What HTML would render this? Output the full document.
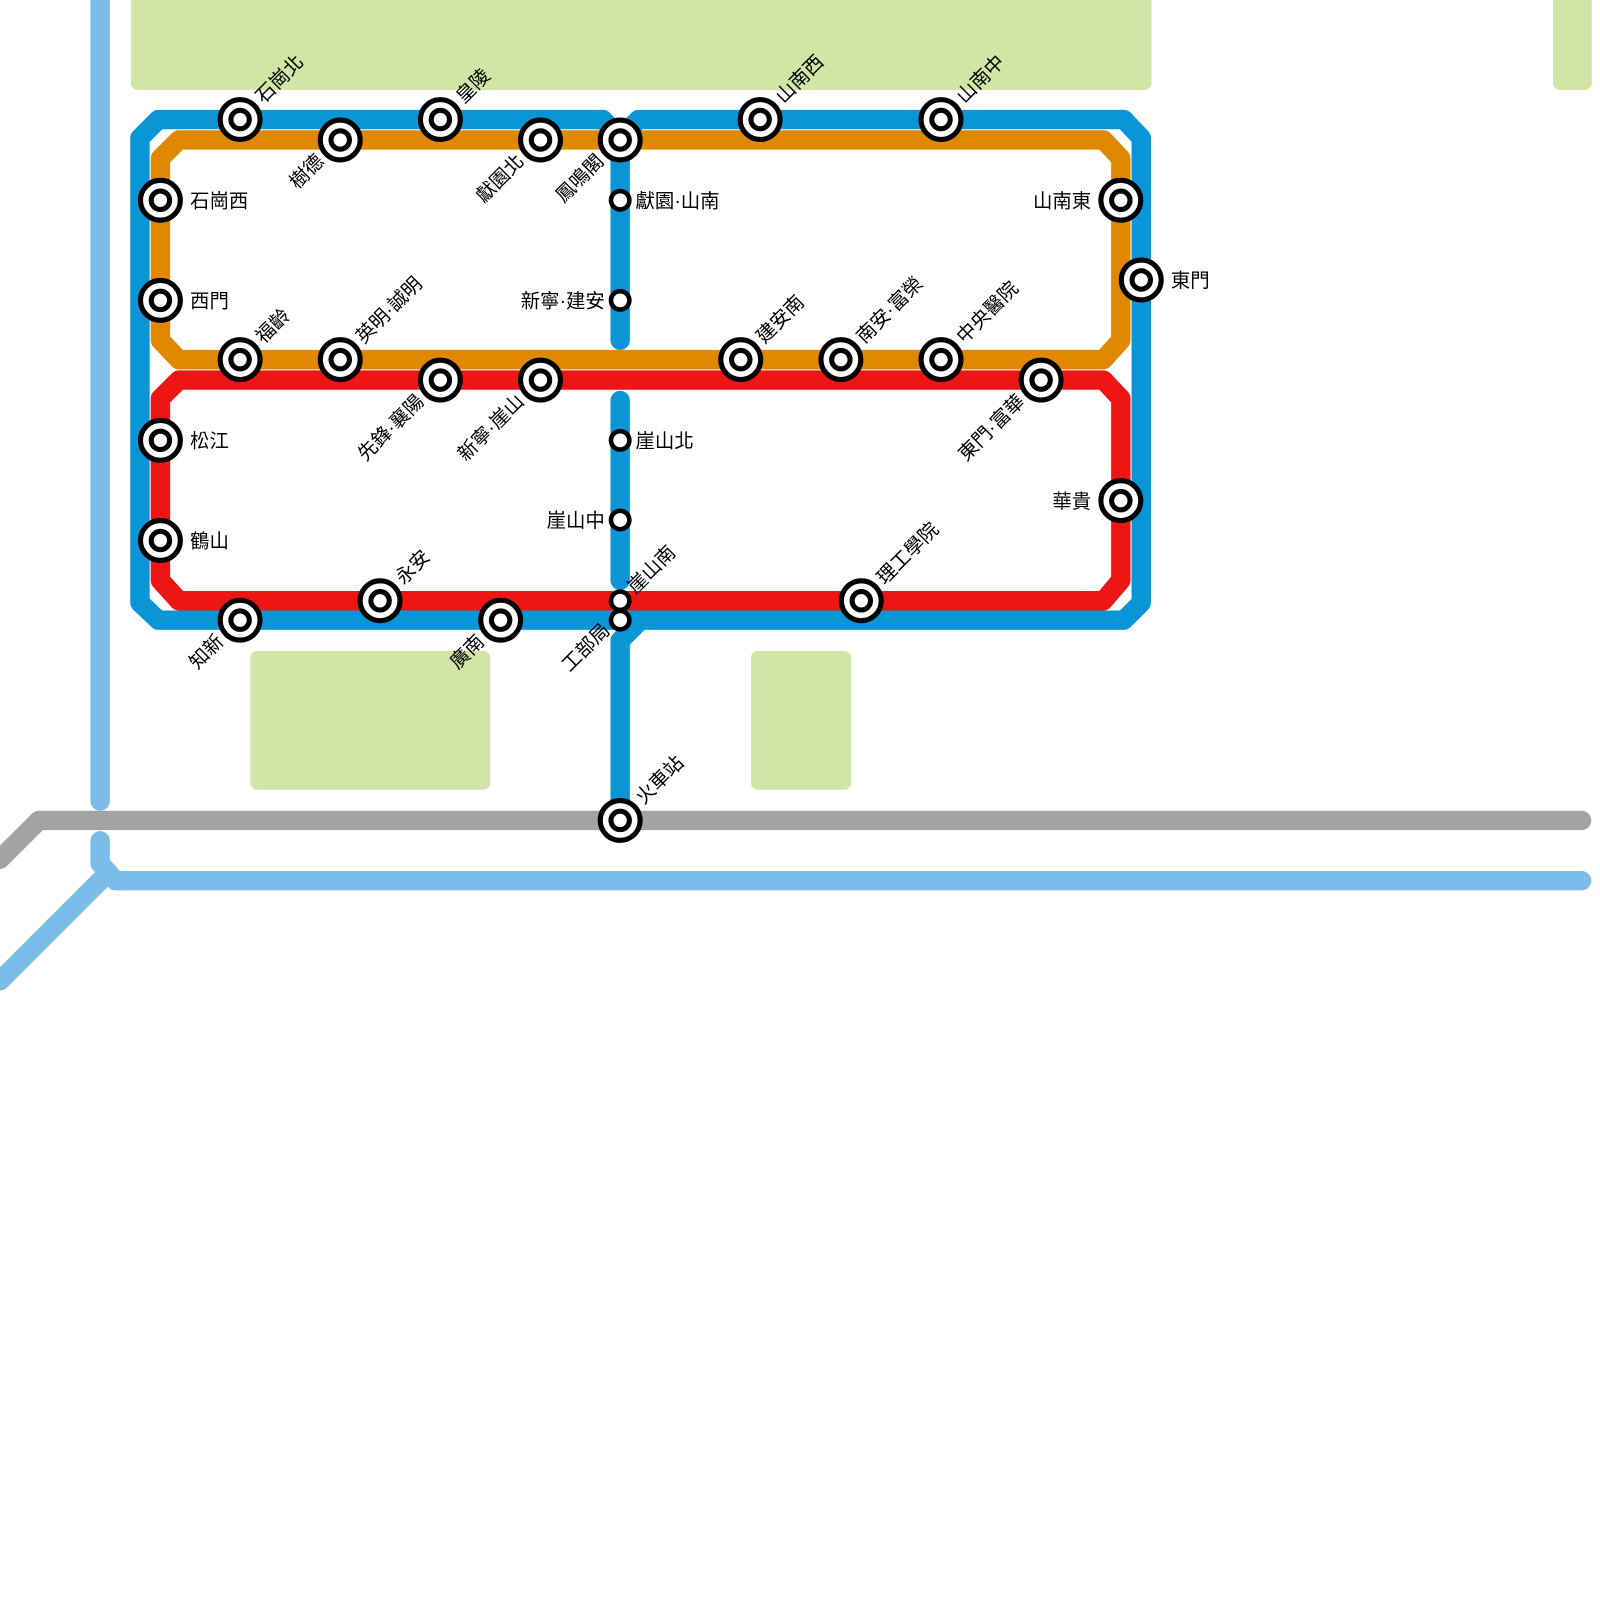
<!DOCTYPE html>
<html><head><meta charset="utf-8"><style>html,body{margin:0;padding:0;background:#fff}svg{display:block}</style></head>
<body>
<svg width="1600" height="1600" viewBox="0 0 1566 1566" xmlns="http://www.w3.org/2000/svg" font-family="Liberation Sans, Noto Sans CJK TC, sans-serif" font-size="19">
<g fill="#d1e5a7">
<rect x="128" y="-10" width="999" height="98" rx="7"/>
<rect x="1520" y="-10" width="38" height="98" rx="7"/>
<rect x="245" y="637" width="235" height="136" rx="7"/>
<rect x="735" y="637" width="98" height="136" rx="7"/>
</g>
<g fill="none" stroke-linecap="round" stroke-linejoin="round" stroke-width="19">
<g stroke="#7bbde8">
<path d="M98 0 V784"/>
<path d="M98 823 V845 L113 862 H1548"/>
<path d="M98 862 L0 960"/>
</g>
<path stroke="#a3a3a3" d="M0 841 L38 803 H1548"/>
<g stroke="#0a96d6">
<path d="M590 117 H155 L137 135 V590 L155 607 H1100 L1117 590 V135 L1100 117 H625 L607 135"/>
<path d="M590 117 L607 135 V333"/>
<path d="M607 392 V568"/>
<path d="M627 607 L607 627 V784"/>
</g>
<path stroke="#e08800" d="M175 137 H1080 L1097 155 V333 L1080 352 H175 L157 333 V155 Z"/>
<path stroke="#ee1515" d="M175 372 H1080 L1097 390 V568 L1080 588 H175 L157 568 V390 Z"/>
</g>
<defs>
<g id="b"><circle r="19.5" fill="#fff" stroke="#000" stroke-width="5"/><circle r="9" fill="#fff" stroke="#000" stroke-width="5"/></g>
<g id="s"><circle r="9" fill="#fff" stroke="#000" stroke-width="4.5"/></g>
</defs>
<g>
<use href="#b" x="235" y="117"/><use href="#b" x="431" y="117"/><use href="#b" x="744" y="117"/><use href="#b" x="921" y="117"/>
<use href="#b" x="333" y="137"/><use href="#b" x="529" y="137"/><use href="#b" x="607" y="137"/>
<use href="#b" x="157" y="196"/><use href="#b" x="157" y="294"/><use href="#b" x="157" y="431"/><use href="#b" x="157" y="529"/>
<use href="#b" x="235" y="352"/><use href="#b" x="333" y="352"/><use href="#b" x="725" y="352"/><use href="#b" x="823" y="352"/><use href="#b" x="921" y="352"/>
<use href="#b" x="431" y="372"/><use href="#b" x="529" y="372"/><use href="#b" x="1019" y="372"/>
<use href="#b" x="1097" y="196"/><use href="#b" x="1097" y="490"/><use href="#b" x="1117" y="274"/>
<use href="#b" x="372" y="588"/><use href="#b" x="843" y="588"/>
<use href="#b" x="235" y="607"/><use href="#b" x="490" y="607"/>
<use href="#b" x="607" y="803"/>
<use href="#s" x="607" y="196"/><use href="#s" x="607" y="294"/><use href="#s" x="607" y="431"/><use href="#s" x="607" y="509"/><use href="#s" x="607" y="588"/><use href="#s" x="607" y="607"/>
</g>
<g fill="#000">
<text x="186" y="203">石崗西</text>
<text x="186" y="301">西門</text>
<text x="186" y="438">松江</text>
<text x="186" y="536">鶴山</text>
<text x="1068" y="203" text-anchor="end">山南東</text>
<text x="1068" y="497" text-anchor="end">華貴</text>
<text x="1146" y="281">東門</text>
<text x="622" y="203">獻園·山南</text>
<text x="592" y="301" text-anchor="end">新寧·建安</text>
<text x="622" y="438">崖山北</text>
<text x="592" y="516" text-anchor="end">崖山中</text>
<g text-anchor="start">
<text transform="translate(258,102) rotate(-45)">石崗北</text>
<text transform="translate(454,102) rotate(-45)">皇陵</text>
<text transform="translate(767,102) rotate(-45)">山南西</text>
<text transform="translate(944,102) rotate(-45)">山南中</text>
<text transform="translate(258,337) rotate(-45)">福齡</text>
<text transform="translate(356,337) rotate(-45)">英明·誠明</text>
<text transform="translate(748,337) rotate(-45)">建安南</text>
<text transform="translate(846,337) rotate(-45)">南安·富榮</text>
<text transform="translate(944,337) rotate(-45)">中央醫院</text>
<text transform="translate(395,573) rotate(-45)">永安</text>
<text transform="translate(866,573) rotate(-45)">理工學院</text>
<text transform="translate(622,582) rotate(-45)">崖山南</text>
<text transform="translate(630,788) rotate(-45)">火車站</text>
</g>
<g text-anchor="end">
<text transform="translate(318,159) rotate(-45)">樹德</text>
<text transform="translate(514,159) rotate(-45)">獻園北</text>
<text transform="translate(592,159) rotate(-45)">鳳鳴閣</text>
<text transform="translate(416,394) rotate(-45)">先鋒·襄陽</text>
<text transform="translate(514,394) rotate(-45)">新寧·崖山</text>
<text transform="translate(1004,394) rotate(-45)">東門·富華</text>
<text transform="translate(220,629) rotate(-45)">知新</text>
<text transform="translate(475,629) rotate(-45)">廣南</text>
<text transform="translate(598,618) rotate(-45)">工部局</text>
</g>
</g>
</svg>
</body></html>
